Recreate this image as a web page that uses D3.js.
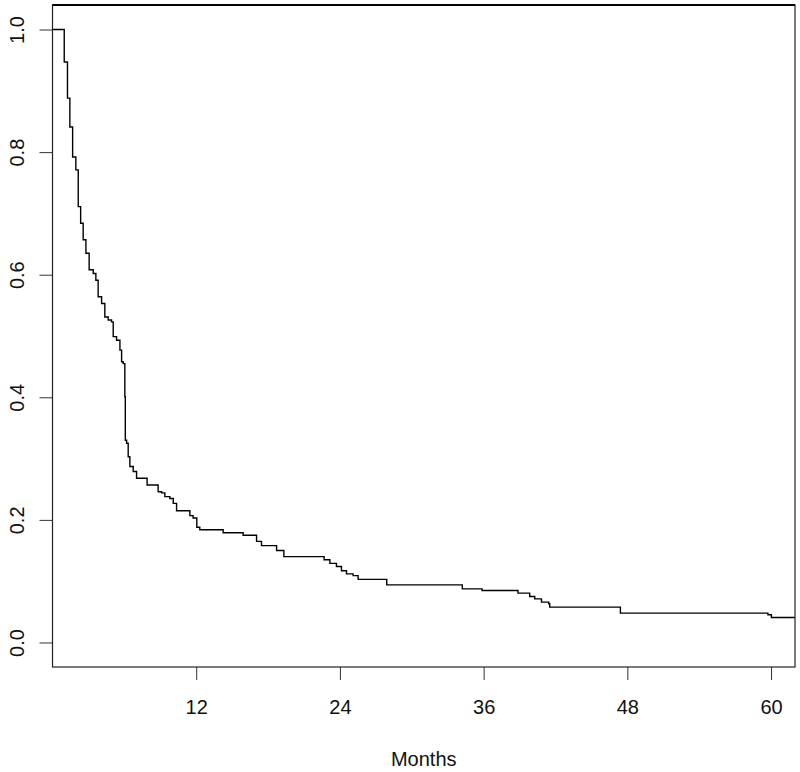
<!DOCTYPE html>
<html>
<head>
<meta charset="utf-8">
<script src="https://cdn.jsdelivr.net/npm/d3@7"></script>
<style>
  body { margin: 0; background: #fff; }
  text { font-family: "Liberation Sans", Arial, sans-serif; fill: #111; }
</style>
</head>
<body>
<script>
// Kaplan-Meier step curve (months, survival after drop)
const eventTimes = [0.98, 1.25, 1.45, 1.68, 1.95, 2.15, 2.35, 2.56, 2.79, 3.06,
  3.40, 3.62, 3.81, 4.10, 4.37, 4.65, 4.93, 5.07, 5.35, 5.63,
  5.77, 5.90, 6.04, 6.08, 6.19, 6.32, 6.46, 6.74, 7.02, 7.90,
  8.82, 9.11, 9.38, 9.80, 10.08, 10.36, 11.47, 11.74, 12.05, 12.30,
  14.25, 15.92, 17.04, 17.45, 18.71, 19.32, 22.68, 23.16, 23.71, 24.13,
  24.55, 25.10, 25.52, 27.91, 34.22, 35.87, 38.87, 39.85, 40.27, 40.83,
  41.44, 41.52, 47.42, 59.74, 60.03];
const survival = [0.947, 0.888, 0.841, 0.792, 0.771, 0.711, 0.684, 0.657, 0.635, 0.608,
  0.602, 0.591, 0.564, 0.553, 0.531, 0.526, 0.523, 0.499, 0.493, 0.477,
  0.458, 0.455, 0.401, 0.330, 0.325, 0.303, 0.287, 0.279, 0.268, 0.257,
  0.246, 0.244, 0.238, 0.235, 0.227, 0.215, 0.207, 0.203, 0.188, 0.184,
  0.179, 0.175, 0.165, 0.158, 0.150, 0.140, 0.135, 0.129, 0.124, 0.117,
  0.112, 0.109, 0.103, 0.094, 0.0875, 0.0848, 0.0805, 0.075, 0.0712, 0.0659,
  0.0631, 0.0577, 0.0479, 0.0452, 0.0408];
const xTicks = [12, 24, 36, 48, 60];
const yTicks = [0, 0.2, 0.4, 0.6, 0.8, 1.0];
const xLabel = "Months";
const maxTime = 62;

const width = 800, height = 772;
const box = {left: 52.5, right: 795, top: 5, bottom: 667};

const svg = d3.select("body").append("svg")
    .attr("width", width)
    .attr("height", height);

const x = d3.scaleLinear().domain([0, maxTime]).range([box.left, box.right]);
const y = d3.scaleLinear().domain([-0.04, 1.04]).range([box.bottom, box.top]);

// curve points: start at 1, then each drop, then carry to the end
const pts = [[0, 1]].concat(eventTimes.map((t, i) => [t, survival[i]]));
pts.push([maxTime, survival[survival.length - 1]]);

svg.append("clipPath").attr("id", "clip")
  .append("rect")
    .attr("x", box.left).attr("y", box.top)
    .attr("width", box.right - box.left).attr("height", box.bottom - box.top);

svg.append("path")
    .datum(pts)
    .attr("clip-path", "url(#clip)")
    .attr("fill", "none")
    .attr("stroke", "#000")
    .attr("stroke-width", 1.4)
    .attr("d", d3.line()
        .x(d => x(d[0]))
        .y(d => y(d[1]))
        .curve(d3.curveStepAfter));

// x axis
const gx = svg.append("g")
    .attr("transform", `translate(0,${box.bottom})`)
    .call(d3.axisBottom(x).tickValues(xTicks).tickSize(13).tickPadding(20)
        .tickFormat(d3.format("d")));
gx.select(".domain").remove();
gx.selectAll("line").attr("stroke", "#333");
gx.selectAll("text").attr("font-size", 20).attr("fill", "#111")
    .style("font-family", "Liberation Sans, Arial, sans-serif");

// y axis with rotated labels
const gy = svg.append("g")
    .attr("transform", `translate(${box.left},0)`)
    .call(d3.axisLeft(y).tickValues(yTicks).tickSize(13)
        .tickFormat(d3.format(".1f")));
gy.select(".domain").remove();
gy.selectAll("line").attr("stroke", "#333");
gy.selectAll("text")
    .attr("x", null).attr("dy", null)
    .attr("text-anchor", "middle")
    .attr("transform", "translate(-28.5,0) rotate(-90)")
    .attr("font-size", 20).attr("fill", "#111")
    .style("font-family", "Liberation Sans, Arial, sans-serif");

// plot frame
svg.append("rect")
    .attr("x", box.left).attr("y", box.top)
    .attr("width", box.right - box.left).attr("height", box.bottom - box.top)
    .attr("fill", "none")
    .attr("stroke", "#222")
    .attr("stroke-width", 1.2);
svg.append("line")
    .attr("x1", box.left).attr("x2", box.right)
    .attr("y1", box.top).attr("y2", box.top)
    .attr("stroke", "#000").attr("stroke-width", 2);

svg.append("text")
    .attr("x", (box.left + box.right) / 2)
    .attr("y", 766)
    .attr("text-anchor", "middle")
    .attr("font-size", 20)
    .text(xLabel);
</script>
</body>
</html>
